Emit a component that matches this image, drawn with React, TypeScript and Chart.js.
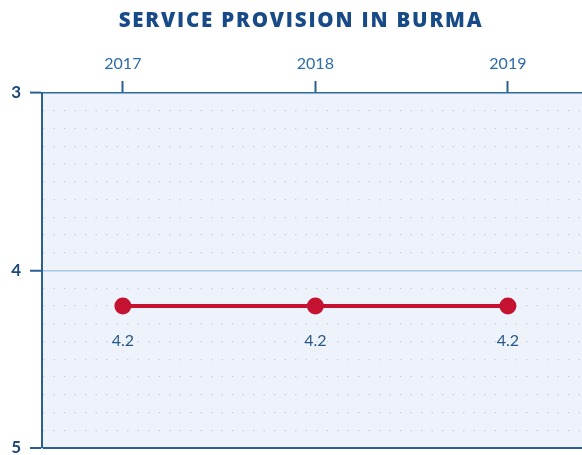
import React, { useEffect, useRef } from "react";
import { Chart, registerables } from "chart.js";

Chart.register(...registerables);

const title = "SERVICE PROVISION IN BURMA";
const years = [2017, 2018, 2019];
const values = [4.2, 4.2, 4.2];
const yTickLabels = ["3", "4", "5"];

const isInt = (v: number) => Math.abs(v - Math.round(v)) < 1e-6;

export default function App() {
  const ref = useRef<HTMLCanvasElement | null>(null);
  useEffect(() => {
    document.body.style.margin = "0";
    const bgPlugin = {
      id: "bgFill",
      beforeDraw(chart: any) {
        const { ctx, chartArea: a } = chart;
        ctx.save();
        ctx.fillStyle = "#eef3fb";
        ctx.fillRect(a.left, a.top, a.right - a.left, a.bottom - a.top);
        ctx.restore();
      },
    };
    const titlePlugin = {
      id: "titleText",
      afterDraw(chart: any) {
        const { ctx } = chart;
        ctx.save();
        (ctx as any).letterSpacing = "1.8px";
        ctx.fillStyle = "#174a86";
        ctx.font = "800 20.5px 'Open Sans'";
        ctx.textAlign = "center";
        ctx.textBaseline = "middle";
        ctx.fillText(title, 301, 21);
        ctx.restore();
      },
    };
    const labelPlugin = {
      id: "valLabels",
      afterDatasetsDraw(chart: any) {
        const { ctx } = chart;
        const meta = chart.getDatasetMeta(0);
        ctx.save();
        ctx.fillStyle = "#285888";
        ctx.font = "16px Lato";
        ctx.textAlign = "center";
        ctx.textBaseline = "middle";
        meta.data.forEach((pt: any, i: number) => {
          ctx.fillText(String(values[i]), pt.x, pt.y + 35);
        });
        ctx.restore();
      },
    };
    const chart = new Chart(ref.current!, {
      type: "line",
      data: {
        datasets: [
          {
            data: years.map((y, i) => ({ x: y, y: values[i] })),
            borderColor: "#c41230",
            backgroundColor: "#c41230",
            borderWidth: 4,
            pointRadius: 8.5,
            pointHoverRadius: 8.5,
            pointBorderWidth: 0,
          },
        ],
      },
      options: {
        animation: false,
        responsive: false,
        layout: { autoPadding: false, padding: { left: 0, right: 0, top: 40, bottom: 7 } },
        plugins: {
          legend: { display: false },
          tooltip: { enabled: false },
          title: { display: false },
        },
        scales: {
          x: {
            type: "linear",
            position: "top",
            min: 2016.58,
            max: 2019.385,
            afterBuildTicks: (s: any) => {
              s.ticks = years.map((v) => ({ value: v }));
            },
            afterFit: (s: any) => {
              s.height = 53;
              s.paddingLeft = 0;
              s.paddingRight = 0;
            },
            ticks: {
              color: "#2e6ca8",
              font: { family: "Lato", size: 16 },
              padding: 8,
              callback: (v: any) => String(v),
            },
            grid: {
              drawOnChartArea: false,
              tickLength: 12,
              tickColor: "#2b5f93",
              tickWidth: 2,
            },
            border: { color: "#2b6aa3", width: 1.5 },
          },
          y: {
            type: "linear",
            reverse: true,
            min: 3,
            max: 5,
            afterBuildTicks: (s: any) => {
              const t = [];
              for (let i = 0; i <= 20; i++) t.push({ value: 3 + i / 10 });
              s.ticks = t;
            },
            afterFit: (s: any) => {
              s.width = 42;
              s.paddingTop = 0;
              s.paddingBottom = 0;
            },
            ticks: {
              autoSkip: false,
              color: "#1d4a7a",
              font: { family: "Lato", size: 17, weight: "bold", lineHeight: 1 },
              padding: 9,
              callback: (v: any) => {
                if (!isInt(v)) return "";
                const idx = Math.round(v) - 3;
                return yTickLabels[idx];
              },
            },
            grid: {
              color: (c: any) => {
                const v = c.tick.value;
                if (Math.abs(v - 4) < 1e-6) return "#a9c6e3";
                if (Math.abs(v - 5) < 1e-6) return "#2b5f93";
                if (Math.abs(v - 3) < 1e-6) return "rgba(0,0,0,0)";
                return "#c9d2de";
              },
              lineWidth: (c: any) => {
                const v = c.tick.value;
                if (Math.abs(v - 5) < 1e-6) return 2;
                if (Math.abs(v - 4) < 1e-6) return 1.5;
                return 1.2;
              },
              tickLength: 12,
              tickWidth: 2,
              tickColor: (c: any) => (isInt(c.tick.value) ? "#2b5f93" : "rgba(0,0,0,0)"),
            },
            border: {
              color: "#2b5f93",
              width: 2,
              dash: (c: any) => (c.tick && !isInt(c.tick.value) ? [1.5, 9] : []),
            },
          },
        },
      },
      plugins: [bgPlugin, labelPlugin, titlePlugin],
    } as any);
    return () => chart.destroy();
  }, []);
  return <canvas ref={ref} width={582} height={455} style={{ display: "block" }} />;
}
